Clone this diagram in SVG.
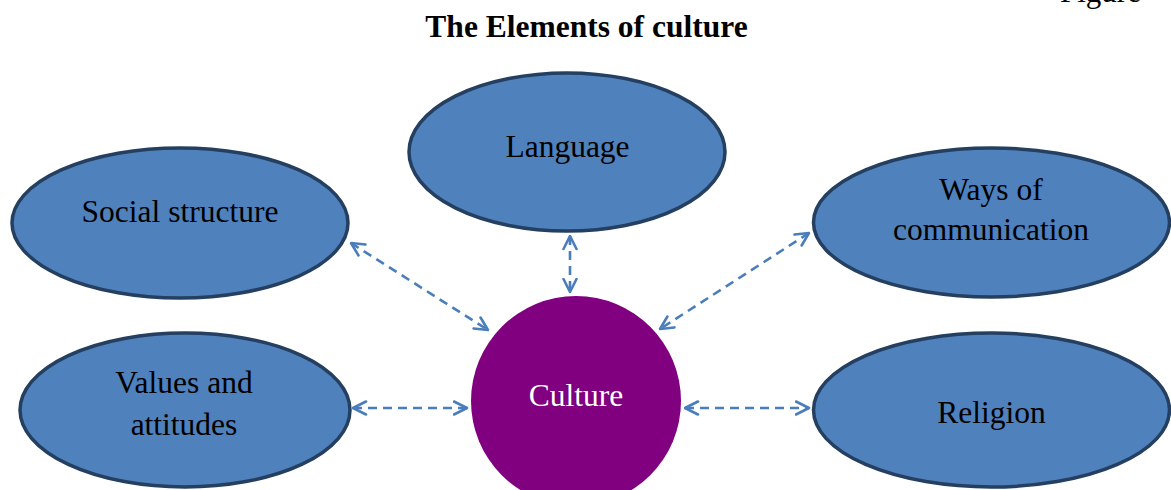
<svg xmlns="http://www.w3.org/2000/svg" width="1171" height="490" viewBox="0 0 1171 490">
<defs>
<style>
.node{fill:#4F81BD;stroke:#243F60;stroke-width:3.5}
.lbl{font-family:"Liberation Serif","Times New Roman",serif;font-size:31.5px;fill:#000;text-anchor:middle}
.title{font-family:"Liberation Serif","Times New Roman",serif;font-size:31.5px;font-weight:bold;fill:#000;text-anchor:middle}
.conn{fill:none;stroke:#4A7EBB;stroke-width:2.6;stroke-dasharray:9 6;marker-start:url(#ah);marker-end:url(#ah)}
</style>
<marker id="ah" viewBox="0 0 16 16" refX="14.5" refY="8" markerWidth="16" markerHeight="16" markerUnits="userSpaceOnUse" orient="auto-start-reverse">
<path d="M1.5,1.5 L14.5,8 L1.5,14.5" fill="none" stroke="#4A7EBB" stroke-width="2.6" stroke-linecap="round" stroke-linejoin="round"/>
</marker>
</defs>
<rect width="1171" height="490" fill="#fff"/>
<text x="1060" y="2" font-family="Liberation Serif, serif" font-size="31">Figure</text>
<text class="title" x="586.5" y="37">The Elements of culture</text>
<g id="connectors">
<path class="conn" d="M351,243 L488,330"/>
<path class="conn" d="M570,236 L570,292"/>
<path class="conn" d="M809,233 L660,329"/>
<path class="conn" d="M353,408 L467,408"/>
<path class="conn" d="M685,408 L809,408"/>
</g>
<g id="node-language">
<ellipse class="node" cx="567" cy="152" rx="158" ry="79"/>
<text class="lbl" x="567.5" y="157">Language</text>
</g>
<g id="node-social">
<ellipse class="node" cx="180" cy="223" rx="168" ry="75"/>
<text class="lbl" x="180" y="222">Social structure</text>
</g>
<g id="node-ways">
<ellipse class="node" cx="991.5" cy="222.5" rx="178" ry="74.5"/>
<text class="lbl" x="991" y="200">Ways of</text>
<text class="lbl" x="991" y="240">communication</text>
</g>
<g id="node-values">
<ellipse class="node" cx="185" cy="410" rx="165" ry="77"/>
<text class="lbl" x="184" y="393">Values and</text>
<text class="lbl" x="184" y="435">attitudes</text>
</g>
<g id="node-religion">
<ellipse class="node" cx="991.5" cy="410" rx="178" ry="77"/>
<text class="lbl" x="991.5" y="423">Religion</text>
</g>
<g id="node-culture">
<circle cx="576" cy="401" r="105" fill="#800080"/>
<text class="lbl" x="576" y="406" style="fill:#fff">Culture</text>
</g>
</svg>
